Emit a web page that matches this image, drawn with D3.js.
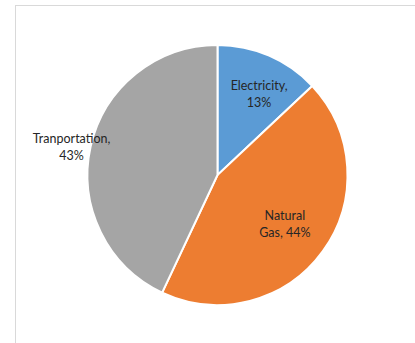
<!DOCTYPE html>
<html>
<head>
<meta charset="utf-8">
<script src="https://cdn.jsdelivr.net/npm/d3@7"></script>
<style>
  body { margin: 0; background: #fff; }
  text { font-family: Lato, "Open Sans", sans-serif; }
</style>
</head>
<body>
<div id="pie"></div>
<script>
// data
var categories = ["Electricity", "Natural Gas", "Tranportation"];
var shares = [13, 44, 43];
var labelLines = [["Electricity,", "13%"], ["Natural", "Gas, 44%"], ["Tranportation,", "43%"]];
var colors = ["#5B9BD5", "#ED7D31", "#A5A5A5"];

var width = 415, height = 343;
var cx = 217.5, cy = 175, radius = 130;

var svg = d3.select("#pie")
    .append("svg")
    .attr("width", width)
    .attr("height", height);

// chart frame (only left and top edges visible)
svg.append("rect")
    .attr("x", 15.5)
    .attr("y", 5.5)
    .attr("width", width + 20)
    .attr("height", height + 20)
    .attr("fill", "none")
    .attr("stroke", "#d9d9d9")
    .attr("stroke-width", 1);

var g = svg.append("g")
    .attr("transform", "translate(" + cx + "," + cy + ")");

var pie = d3.pie().sort(null).value(function (d) { return d; });
var arcs = pie(shares);

var arc = d3.arc().innerRadius(0).outerRadius(radius);

g.selectAll("path.slice")
    .data(arcs)
    .enter()
    .append("path")
    .attr("class", "slice")
    .attr("d", arc)
    .attr("fill", function (d, i) { return colors[i]; })
    .attr("stroke", "#fff")
    .attr("stroke-width", 2);

// label radius per slice: transportation label sits outside the pie
var labelR = [0.69, 0.64, 1.15];
var labelDx = [6, 0, 0];
var labelDy = [-3, -4, 1];

var lbl = g.selectAll("text.lbl")
    .data(arcs)
    .enter()
    .append("text")
    .attr("class", "lbl")
    .attr("text-anchor", "middle")
    .attr("font-size", 12.5)
    .attr("fill", "#262626")
    .attr("transform", function (d, i) {
        var r = radius * labelR[i];
        var c = d3.arc().innerRadius(r).outerRadius(r).centroid(d);
        return "translate(" + (c[0] + labelDx[i]) + "," + (c[1] + labelDy[i]) + ")";
    });

lbl.selectAll("tspan")
    .data(function (d, i) { return labelLines[i]; })
    .enter()
    .append("tspan")
    .attr("x", 0)
    .attr("dy", function (d, j) { return j === 0 ? 0 : 17; })
    .text(function (d) { return d; });
</script>
</body>
</html>
